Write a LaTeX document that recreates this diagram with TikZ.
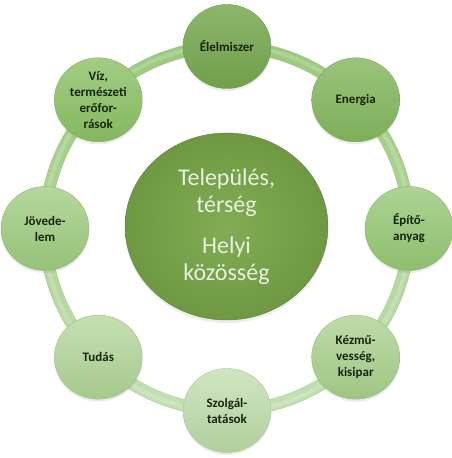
\documentclass[tikz,border=0pt]{standalone}
\usepackage{fontspec}
\setmainfont{Carlito}
\usetikzlibrary{shapes.geometric,shadows,calc}
\definecolor{cA}{HTML}{74A54E}
\definecolor{cB}{HTML}{84B75F}
\definecolor{cC}{HTML}{9ACA7C}
\definecolor{cD}{HTML}{AFD496}
\definecolor{cE}{HTML}{C6E0B6}
\definecolor{cF}{HTML}{B8D9A2}
\definecolor{cG}{HTML}{A4CF87}
\definecolor{cH}{HTML}{8EC268}
\definecolor{dk}{HTML}{5E8C3A}
\definecolor{ringT}{HTML}{9CC97E}
\definecolor{ringB}{HTML}{C4E0B2}
\definecolor{cenL}{HTML}{82AC54}
\definecolor{cenO}{HTML}{6E9942}
\definecolor{cenT}{HTML}{E8F0DE}
\definecolor{txt}{HTML}{18240F}
\begin{document}
\begin{tikzpicture}[x=1pt,y=1pt,
  sat/.style={ellipse, minimum width=88pt, minimum height=84pt, inner sep=0pt,
    align=center, font=\bfseries\fontsize{13}{16}\selectfont, text=txt,
    draw=#1!70!dk, line width=0.4pt,
    top color=#1!82!white, middle color=#1, bottom color=#1!80!dk,
    drop shadow={opacity=0.15, shadow xshift=0pt, shadow yshift=-2.5pt}},
  centre/.style={ellipse, minimum width=203pt, minimum height=187pt, inner sep=0pt,
    align=center, font=\fontsize{24}{27}\selectfont, text=cenT,
    draw=cenO!85!black, line width=0.4pt, inner color=cenL, outer color=cenO,
    drop shadow={opacity=0.15, shadow xshift=0pt, shadow yshift=-3pt}}
]
\useasboundingbox (0,0) rectangle (452,458);
\fill[white] (0,0) rectangle (452,458);
\coordinate (c) at (227,229.5);
% ring
\path[even odd rule, top color=ringT, bottom color=ringB] (c) circle (188) (c) circle (176);
\draw[white, opacity=0.18, line width=4pt] (c) circle (183);
\draw[dk, opacity=0.25, line width=0.5pt] (c) circle (188);
\draw[dk, opacity=0.15, line width=0.5pt] (c) circle (176);
% centre
\node[centre] (ctr) at (226.5,231.5) {Település,\\térség\\[14pt]Helyi\\közösség};
% satellites
\node[sat=cA] (elel) at ($(c)+(90:182)$) {Élelmiszer};
\node[sat=cB] (ener) at ($(c)+(45:182)$) {Energia};
\node[sat=cC] (epit) at ($(c)+(0:182)$) {Építő-\\anyag};
\node[sat=cD] (kezm) at ($(c)+(-45:182)$) {Kézmű-\\vesség,\\kisipar};
\node[sat=cE] (szol) at ($(c)+(-90:182)$) {Szolgál-\\tatások};
\node[sat=cF] (tuda) at ($(c)+(-135:182)$) {Tudás};
\node[sat=cG] (jove) at ($(c)+(180:182)$) {Jövede-\\lem};
\node[sat=cH] (viz) at ($(c)+(135:182)$) {Víz,\\természeti\\erőfor-\\rások};
\end{tikzpicture}
\end{document}
